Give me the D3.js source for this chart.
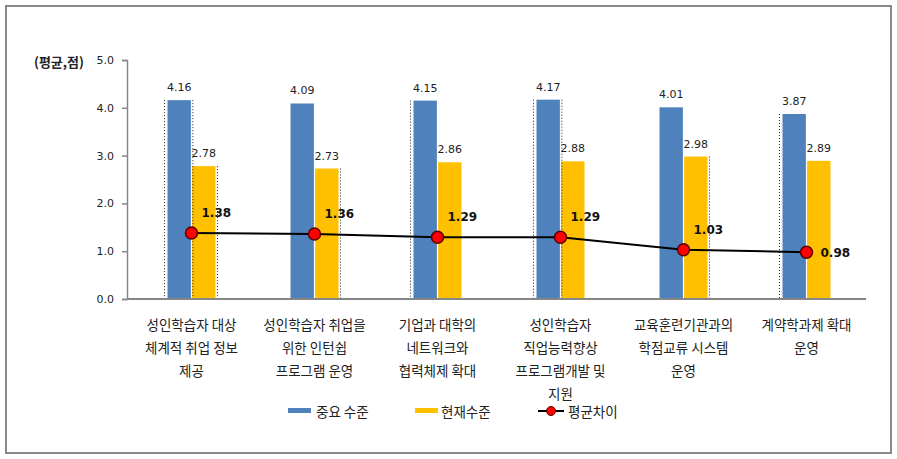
<!DOCTYPE html>
<html>
<head>
<meta charset="utf-8">
<script src="https://cdn.jsdelivr.net/npm/d3@7"></script>
<style>
  body { margin: 0; background: #fff; }
  svg text { font-family: "Noto Sans CJK KR", "DejaVu Sans", sans-serif; }
</style>
</head>
<body>
<div id="chart"></div>
<script>

  // data
  var categories = [
    ["성인학습자 대상", "체계적 취업 정보", "제공"],
    ["성인학습자 취업을", "위한 인턴쉽", "프로그램 운영"],
    ["기업과 대학의", "네트워크와", "협력체제 확대"],
    ["성인학습자", "직업능력향상", "프로그램개발 및", "지원"],
    ["교육훈련기관과의", "학점교류 시스템", "운영"],
    ["계약학과제 확대", "운영"]
  ];
  var importance = [4.16, 4.09, 4.15, 4.17, 4.01, 3.87];
  var current = [2.78, 2.73, 2.86, 2.88, 2.98, 2.89];
  var gap = [1.38, 1.36, 1.29, 1.29, 1.03, 0.98];
  var seriesNames = ["중요 수준", "현재수준", "평균차이"];
  var yTicks = [0, 1, 2, 3, 4, 5];

  // dotted selection marks seen around some bars in the source image
  var dotted = [
    { i: 0, s: 0, side: "L" }, { i: 0, s: 0, side: "R" }, { i: 0, s: 1, side: "R" },
    { i: 1, s: 1, side: "R" },
    { i: 2, s: 0, side: "L" },
    { i: 3, s: 0, side: "L" }, { i: 3, s: 0, side: "R" },
    { i: 4, s: 1, side: "R" },
    { i: 5, s: 0, side: "L" }
  ];

  var W = 897, H = 459;
  var blue = "#4f81bd", yellow = "#ffc000", axisGrey = "#868686";

  var svg = d3.select("#chart").append("svg")
    .attr("width", W).attr("height", H);

  // outer frame
  svg.append("rect")
    .attr("x", 6).attr("y", 6).attr("width", 885).attr("height", 447)
    .attr("fill", "#fff").attr("stroke", "#888").attr("stroke-width", 2);

  var x0 = d3.scaleBand().domain(d3.range(categories.length)).range([130, 868]);
  var x1 = d3.scaleBand().domain([0, 1]).range([-24, 24]).paddingInner(0.05);
  var y = d3.scaleLinear().domain([0, 5]).range([299, 60]);
  var cx = function(i) { return x0(i) + x0.bandwidth() / 2; };

  // y axis
  var yAxis = svg.append("g")
    .attr("transform", "translate(127,0)")
    .call(d3.axisLeft(y).tickValues(yTicks).tickFormat(d3.format(".1f")).tickSize(5).tickPadding(8));
  yAxis.select(".domain").attr("stroke", axisGrey).attr("stroke-width", 1.5);
  yAxis.selectAll(".tick line").attr("stroke", axisGrey).attr("stroke-width", 1.5);
  yAxis.selectAll(".tick text").attr("fill", "#222").style("font-size", "11px")
    .style("font-family", "'DejaVu Sans', sans-serif");

  svg.append("text")
    .attr("x", 34).attr("y", 67)
    .attr("fill", "#222").style("font-size", "13px").style("font-weight", "bold")
    .text("(평균,점)");

  // bars
  var series = [importance, current];
  var colors = [blue, yellow];
  series.forEach(function(vals, s) {
    var g = svg.append("g");
    g.selectAll("rect").data(vals).enter().append("rect")
      .attr("x", function(d, i) { return cx(i) + x1(s); })
      .attr("y", function(d) { return y(d); })
      .attr("width", x1.bandwidth())
      .attr("height", function(d) { return y(0) - y(d); })
      .attr("fill", colors[s]);
    g.selectAll("text").data(vals).enter().append("text")
      .attr("x", function(d, i) { return cx(i) + x1(s) + x1.bandwidth() / 2; })
      .attr("y", function(d) { return y(d) - 9; })
      .attr("text-anchor", "middle")
      .attr("fill", "#222").style("font-size", "11px")
      .style("font-family", "'DejaVu Sans', sans-serif")
      .text(function(d) { return d.toFixed(2); });
  });

  // dotted marks
  svg.append("g").selectAll("line").data(dotted).enter().append("line")
    .attr("x1", function(d) {
      var bx = cx(d.i) + x1(d.s);
      return d.side === "L" ? bx - 3 : bx + x1.bandwidth() + 2;
    })
    .attr("x2", function(d) {
      var bx = cx(d.i) + x1(d.s);
      return d.side === "L" ? bx - 3 : bx + x1.bandwidth() + 2;
    })
    .attr("y1", function(d) { return y(series[d.s][d.i]); })
    .attr("y2", y(0))
    .attr("stroke", "#222").attr("stroke-width", 1).attr("stroke-dasharray", "1,2");

  // x axis line
  svg.append("line")
    .attr("x1", 127).attr("x2", 866).attr("y1", y(0)).attr("y2", y(0))
    .attr("stroke", axisGrey).attr("stroke-width", 2);

  // gap line
  var line = d3.line().x(function(d, i) { return cx(i); }).y(function(d) { return y(d); });
  svg.append("path").datum(gap)
    .attr("d", line).attr("fill", "none").attr("stroke", "#000").attr("stroke-width", 2);
  svg.append("g").selectAll("circle").data(gap).enter().append("circle")
    .attr("cx", function(d, i) { return cx(i); })
    .attr("cy", function(d) { return y(d); })
    .attr("r", 6)
    .attr("fill", "#ff0000").attr("stroke", "#5a0000").attr("stroke-width", 1.5);
  svg.append("g").selectAll("text").data(gap).enter().append("text")
    .attr("x", function(d, i) { return i === gap.length - 1 ? cx(i) + 14 : cx(i) + 10; })
    .attr("y", function(d, i) { return i === gap.length - 1 ? y(d) + 5 : y(d) - 16; })
    .attr("fill", "#111").style("font-size", "12px").style("font-weight", "bold")
    .style("font-family", "'DejaVu Sans', sans-serif")
    .text(function(d) { return d.toFixed(2); });

  // category labels
  var catG = svg.append("g").selectAll("text").data(categories).enter().append("text")
    .attr("x", function(d, i) { return cx(i); })
    .attr("text-anchor", "middle")
    .attr("fill", "#222").style("font-size", "13.5px");
  catG.selectAll("tspan").data(function(d) { return d; }).enter().append("tspan")
    .attr("x", function() { return d3.select(this.parentNode).attr("x"); })
    .attr("y", function(d, j) { return 330 + j * 23; })
    .text(function(d) { return d; });

  // legend
  var lg = svg.append("g").style("font-size", "13.5px");
  lg.append("rect").attr("x", 288).attr("y", 408).attr("width", 23).attr("height", 5).attr("fill", blue);
  lg.append("text").attr("x", 316).attr("y", 417).attr("fill", "#222").text(seriesNames[0]);
  lg.append("rect").attr("x", 415).attr("y", 408).attr("width", 23).attr("height", 5).attr("fill", yellow);
  lg.append("text").attr("x", 441).attr("y", 417).attr("fill", "#222").text(seriesNames[1]);
  lg.append("line").attr("x1", 538).attr("x2", 564).attr("y1", 411).attr("y2", 411)
    .attr("stroke", "#000").attr("stroke-width", 2);
  lg.append("circle").attr("cx", 551).attr("cy", 411).attr("r", 4.5)
    .attr("fill", "#ff0000").attr("stroke", "#5a0000").attr("stroke-width", 1);
  lg.append("text").attr("x", 568).attr("y", 417).attr("fill", "#222").text(seriesNames[2]);

</script>
</body>
</html>
